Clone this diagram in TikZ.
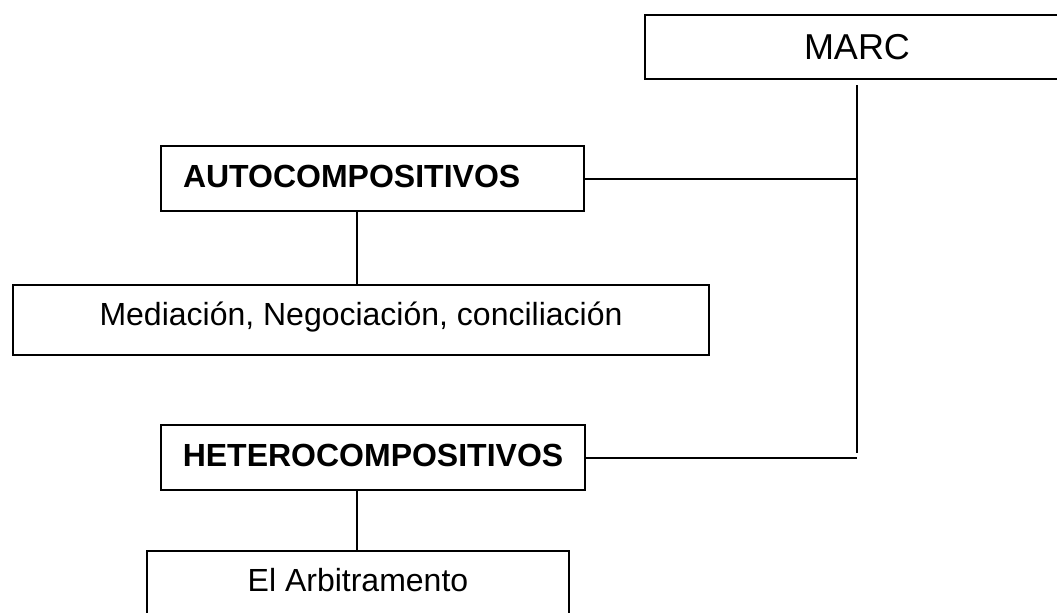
\documentclass[tikz,border=0pt]{standalone}
\usepackage{fontspec}
\setmainfont{Liberation Sans}
\usepackage{tikz}
\usetikzlibrary{calc}
\tikzset{
  caja/.style = {draw=black, line width=1pt, inner sep=0pt, align=center,
    font=\fontsize{16}{19}\selectfont, text height=11.5pt, text depth=6pt},% caja normal
  caja_n/.style = {caja, font=\fontsize{16}{19}\selectfont\bfseries,
    text depth=3pt},% caja en negrita
  caja_m/.style = {caja, font=\fontsize{18}{22}\selectfont, text height=12.9pt,
    text depth=0pt}% caja de arriba, MARC
}

\begin{document}
\begin{tikzpicture}[x=0.5pt,y=-0.5pt,line width=1pt]
\useasboundingbox (0,0) rectangle (1057,612);
\clip (0,0) rectangle (1057,612);
\node [caja_m, minimum width=212pt, minimum height=32pt] (marc) at (857,47) {MARC};
\node [caja_n, minimum width=211.5pt, minimum height=32.5pt, text width=189.5pt,
  inner xsep=11pt, align=left] (auto) at (372.5,178.5) {AUTOCOMPOSITIVOS};
\node [caja, minimum width=348pt, minimum height=35pt] (med) at (361,320)
  {Mediación, Negociación, conciliación};
\node [caja_n, minimum width=212pt, minimum height=32.5pt] (hetero) at (373,457.5)
  {HETEROCOMPOSITIVOS};
\node [caja, minimum width=211pt, minimum height=35pt] (arb) at (358,586)
  {El Arbitramento};

\coordinate (t_arr) at ([yshift=-2.5pt]marc.south);
\coordinate (t_ab) at (857,453);
%\coordinate (t_ab) at (hetero.east -| marc.south);

\draw (t_arr) -- (t_ab);
\draw (auto.east) -- (auto.east -| t_ab);
\draw (hetero.east) -- (hetero.east -| t_ab);
\draw ([xshift=-2pt]med.north) -- ([xshift=-2pt]med.north |- auto.south);
\draw ([xshift=-0.5pt]arb.north) -- ([xshift=-0.5pt]arb.north |- hetero.south);
\end{tikzpicture}
\end{document}
